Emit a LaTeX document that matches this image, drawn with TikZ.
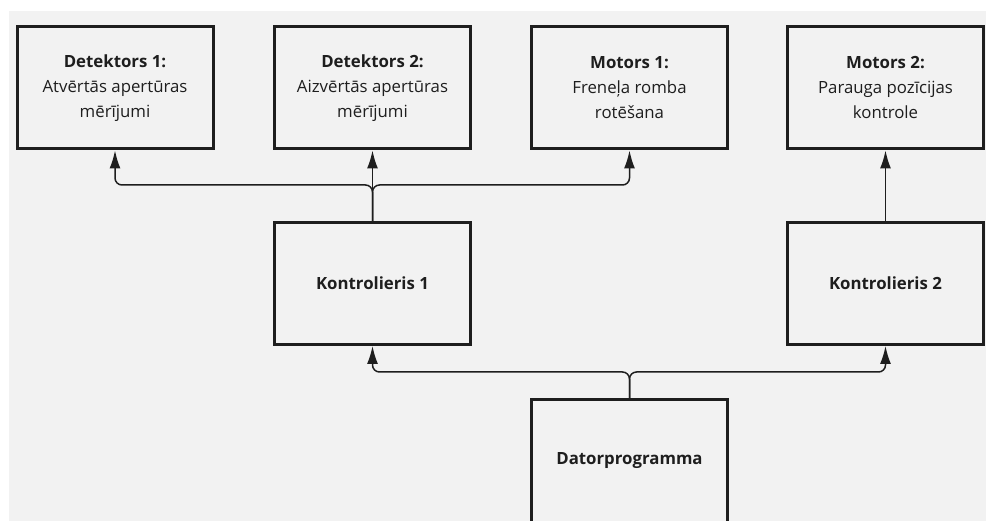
\documentclass[tikz,border=0pt]{standalone}
\usepackage{fontspec}
\setmainfont{Open Sans}
\usetikzlibrary{arrows.meta}
\definecolor{bg}{HTML}{F2F2F2}
\definecolor{ink}{HTML}{1E1E1E}
\tikzset{
  box/.style={draw=ink, line width=3pt, fill=bg, minimum width=196pt, minimum height=122pt,
    inner sep=0pt, align=center, text=ink, font=\fontsize{16.8}{25}\selectfont},
  conn/.style={draw=ink, line width=1.5pt, rounded corners=7pt},
  arr/.style={conn, -{Latex[length=18pt,width=11pt]}}
}
\begin{document}
\begin{tikzpicture}[x=1pt,y=-1pt]
\clip (0,0) rectangle (986,521);
\useasboundingbox (0,0) rectangle (986,521);
\fill[white] (0,0) rectangle (986,521);
\fill[bg] (9,11) rectangle (986,521);
\node[box] (d1) at (115,88) {\textbf{Detektors 1:}\\Atvērtās apertūras\\mērījumi};
\node[box] (d2) at (372.5,88) {\textbf{Detektors 2:}\\Aizvērtās apertūras\\mērījumi};
\node[box] (m1) at (629.5,88) {\textbf{Motors 1:}\\Freneļa romba\\rotēšana};
\node[box] (m2) at (885.5,88) {\textbf{Motors 2:}\\Parauga pozīcijas\\kontrole};
\node[box] (k1) at (372.5,283.5) {\textbf{Kontrolieris 1}};
\node[box] (k2) at (885.5,283.5) {\textbf{Kontrolieris 2}};
\node[box] (dp) at (629.5,461) {\textbf{Datorprogramma}};
\coordinate (j1) at (372.5,185);
\coordinate (j2) at (629.5,372);
\draw[arr] (k1.north) -- (j1) -| (d1.south);
\draw[arr] (k1.north) -- (j1) -| (m1.south);
\draw[arr] (k1.north) -- (d2.south);
\draw[arr] (k2.north) -- (m2.south);
\draw[arr] (dp.north) -- (j2) -| (k1.south);
\draw[arr] (dp.north) -- (j2) -| (k2.south);
\end{tikzpicture}
\end{document}
